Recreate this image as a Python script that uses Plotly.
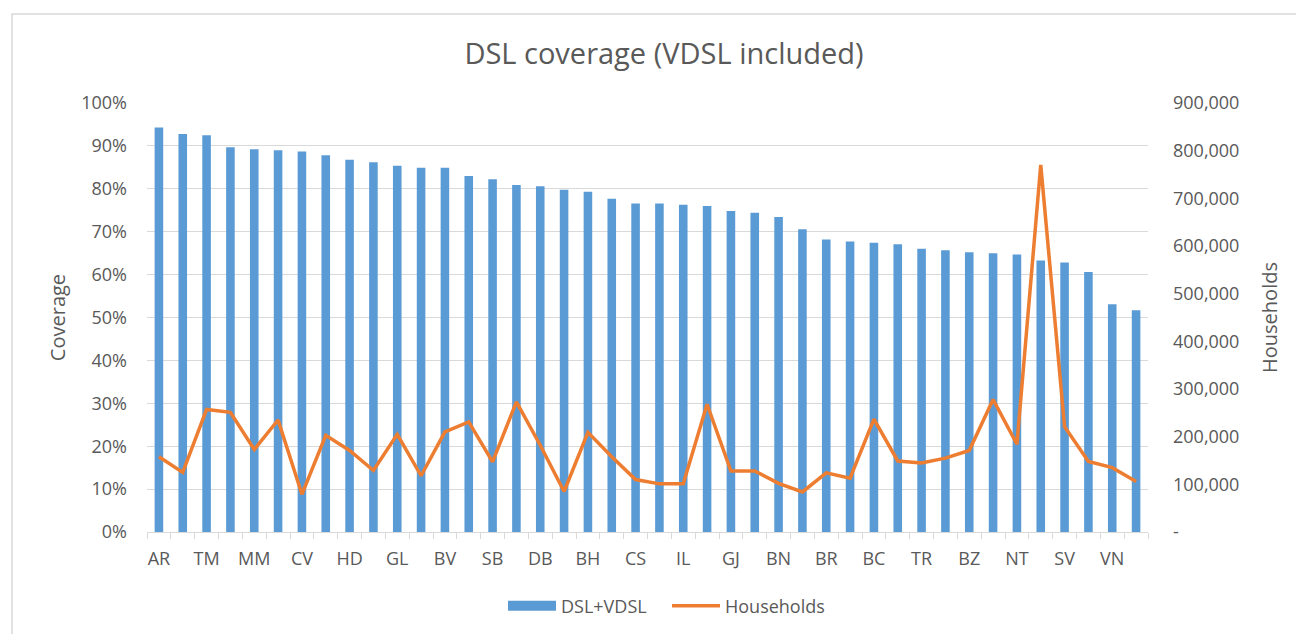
import plotly.graph_objects as go

counties = ["AR", "IF", "TM", "CT", "MM", "CJ", "CV", "AG", "HD", "SM",
            "GL", "HR", "BV", "MS", "SB", "PH", "DB", "CL", "BH", "AB",
            "CS", "GR", "IL", "DJ", "GJ", "MH", "BN", "SJ", "BR", "TL",
            "BC", "OT", "TR", "VL", "BZ", "IS", "NT", "B", "SV", "BT",
            "VN", "VS"]

coverage = [0.943, 0.928, 0.925, 0.897, 0.892, 0.890, 0.887, 0.878, 0.868, 0.862,
            0.854, 0.849, 0.849, 0.830, 0.822, 0.809, 0.806, 0.798, 0.793, 0.777,
            0.766, 0.766, 0.763, 0.760, 0.748, 0.744, 0.734, 0.706, 0.682, 0.677,
            0.674, 0.671, 0.660, 0.657, 0.652, 0.650, 0.647, 0.633, 0.628, 0.606,
            0.531, 0.517]

households = [158000, 125000, 257000, 251000, 173000, 235000, 79000, 203000, 171000, 129000,
              205000, 118000, 210000, 231000, 147000, 273000, 182000, 85000, 209000, 158000,
              110000, 101000, 101000, 268000, 128000, 128000, 102000, 84000, 124000, 113000,
              237000, 149000, 145000, 155000, 171000, 278000, 184000, 770000, 221000, 148000,
              135000, 106000]

left_ticks = [i / 10 for i in range(11)]
right_ticks = [i * 100000 for i in range(10)]
right_ticktext = ["-"] + [f"{v:,}" for v in right_ticks[1:]]
x_ticktext = [c if i % 2 == 0 else "" for i, c in enumerate(counties)]

FONT = "Open Sans"
GRAY = "#595959"
GRID = "#D9D9D9"
BLUE = "#5B9BD5"
ORANGE = "#ED7D31"

# page has an 8px body margin; figure is sized so the plot lands on the reference pixels
W, H = 1296, 626
L, T, PW, PH = 139, 95, 1001, 429

fig = go.Figure()
fig.add_trace(go.Bar(x=counties, y=coverage, name="DSL+VDSL",
                     marker=dict(color=BLUE, line=dict(width=0)),
                     yaxis="y", showlegend=False, legendgroup="dsl"))
# legend entry drawn as a wide box, like the reference
fig.add_trace(go.Scatter(x=[None], y=[None], name="DSL+VDSL", mode="lines",
                         line=dict(color=BLUE, width=12), legendgroup="dsl",
                         yaxis="y", hoverinfo="skip"))
fig.add_trace(go.Scatter(x=counties, y=households, name="Households",
                         mode="lines", line=dict(color=ORANGE, width=3.5),
                         yaxis="y2"))

fig.update_layout(
    width=W, height=H,
    margin=dict(l=L, r=W - L - PW, t=T, b=H - T - PH, autoexpand=False),
    paper_bgcolor="white", plot_bgcolor="white",
    font=dict(family=FONT, color=GRAY, size=18),
    title=dict(text="DSL coverage (VDSL included)", x=(664 - 8) / W, xanchor="center",
               y=1 - 46 / H, yanchor="middle",
               font=dict(family=FONT, size=29, color=GRAY)),
    bargap=0.64,
    showlegend=True,
    legend=dict(orientation="h", xref="container", yref="container",
                x=(503 - 8) / W, xanchor="left",
                y=1 - (606 - 8) / H, yanchor="middle",
                font=dict(family=FONT, size=18, color=GRAY), itemwidth=48,
                entrywidth=101, entrywidthmode="pixels",
                tracegroupgap=0),
    xaxis=dict(type="category", tickmode="array", tickvals=counties, ticktext=x_ticktext,
               tickson="boundaries", ticks="outside", ticklen=6, tickcolor=GRID,
               tickangle=0, automargin=False,
               showline=True, linecolor=GRID, linewidth=1, showgrid=False,
               tickfont=dict(size=18, color=GRAY), ticklabelstandoff=10),
    yaxis=dict(range=[0, 1], tickmode="array", tickvals=left_ticks,
               tickformat=".0%", showgrid=True, gridcolor=GRID, gridwidth=1,
               zeroline=False, showline=False, ticks="", automargin=False,
               tickfont=dict(size=18, color=GRAY),
               ticklabelstandoff=19,
               title=dict(text="Coverage", font=dict(size=20, color=GRAY), standoff=10)),
    yaxis2=dict(range=[0, 900000], overlaying="y", side="right",
                tickmode="array", tickvals=right_ticks, ticktext=right_ticktext,
                showgrid=False, zeroline=False, showline=False, ticks="", automargin=False,
                tickfont=dict(size=18, color=GRAY),
                ticklabelstandoff=24,
                title=dict(text="Households", font=dict(size=20, color=GRAY), standoff=24)),
    shapes=[dict(type="rect", xref="paper", yref="paper",
                 x0=(4 - L) / PW, x1=(1320 - L) / PW,
                 y0=-(H + 20 - T - PH) / PH, y1=(T + PH - 6) / PH,
                 line=dict(color=GRID, width=1.5), fillcolor="rgba(0,0,0,0)", layer="below")],
)

fig.write_html("out.html")
